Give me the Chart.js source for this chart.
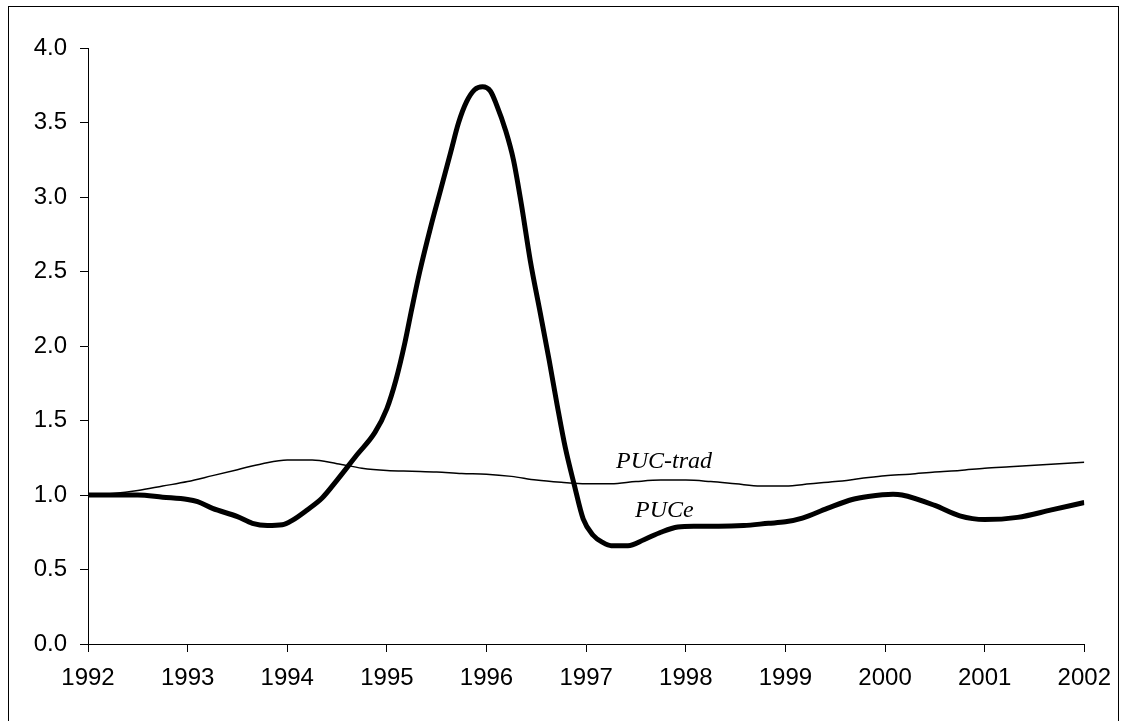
<!DOCTYPE html>
<html>
<head>
<meta charset="utf-8">
<script src="https://cdn.jsdelivr.net/npm/chart.js@4/dist/chart.umd.min.js"></script>
<style>
  html, body { margin: 0; padding: 0; background: #fff; overflow: hidden; }
  canvas { display: block; }
</style>
</head>
<body>
<canvas id="chart" width="1123" height="721"></canvas>
<script>
/* ─── Data ─────────────────────────────────────────── */
const yTicks = [0, 0.5, 1, 1.5, 2, 2.5, 3, 3.5, 4];

const tradYears = [
  1992.00, 1992.25, 1992.50, 1992.75, 1993.00, 1993.25, 1993.50, 1993.75,
  1994.00, 1994.25, 1994.50, 1994.75, 1995.00, 1995.25, 1995.50, 1995.75,
  1996.00, 1996.25, 1996.50, 1996.75, 1997.00, 1997.25, 1997.50, 1997.75,
  1998.00, 1998.25, 1998.50, 1998.75, 1999.00, 1999.25, 1999.50, 1999.75,
  2000.00, 2000.25, 2000.50, 2000.75, 2001.00, 2001.25, 2001.50, 2001.75,
  2002.00
];
const tradValues = [
  1.00, 1.01, 1.03, 1.06, 1.09, 1.13, 1.17, 1.21,
  1.235, 1.235, 1.21, 1.18, 1.165, 1.16, 1.155, 1.145,
  1.14, 1.125, 1.10, 1.085, 1.075, 1.075, 1.09, 1.10,
  1.10, 1.09, 1.075, 1.06, 1.06, 1.075, 1.09, 1.11,
  1.13, 1.14, 1.155, 1.165, 1.18, 1.19, 1.20, 1.21,
  1.22
];

const pucYears = [
  1992.00, 1992.25, 1992.50, 1992.75, 1993.00, 1993.10, 1993.25, 1993.50,
  1993.65, 1993.80, 1993.95, 1994.05, 1994.20, 1994.35, 1994.50, 1994.70,
  1994.88, 1995.00, 1995.09, 1995.18, 1995.25, 1995.33, 1995.44, 1995.54,
  1995.64, 1995.72, 1995.80, 1995.88, 1995.96, 1996.04, 1996.10, 1996.19,
  1996.27, 1996.35, 1996.44, 1996.54, 1996.63, 1996.71, 1996.79, 1996.88,
  1996.97, 1997.07, 1997.17, 1997.25, 1997.42, 1997.58, 1997.75, 1997.92,
  1998.08, 1998.33, 1998.58, 1998.83, 1999.00, 1999.17, 1999.42, 1999.67,
  1999.83, 2000.08, 2000.17, 2000.50, 2000.75, 2001.00, 2001.33, 2001.67,
  2002.00
];
const pucValues = [
  1.00, 1.00, 1.00, 0.985, 0.97, 0.955, 0.91, 0.855,
  0.81, 0.795, 0.80, 0.83, 0.90, 0.98, 1.10, 1.27,
  1.42, 1.58, 1.77, 2.02, 2.25, 2.50, 2.80, 3.05,
  3.30, 3.50, 3.64, 3.72, 3.74, 3.71, 3.62, 3.45,
  3.25, 2.95, 2.57, 2.22, 1.90, 1.60, 1.32, 1.07,
  0.84, 0.73, 0.68, 0.66, 0.66, 0.70, 0.75, 0.785,
  0.79, 0.79, 0.795, 0.81, 0.82, 0.845, 0.91, 0.97,
  0.99, 1.005, 1.00, 0.93, 0.86, 0.835, 0.85, 0.90,
  0.95
];

// series labels placed on the plot (year, value)
const seriesLabels = [
  { text: "PUC-trad", x: 1997.30, y: 1.18 },
  { text: "PUCe", x: 1997.49, y: 0.85 }
];

/* ─── Plugins ──────────────────────────────────────── */
const frame = {
  id: "frame",
  beforeDraw(chart) {
    const ctx = chart.ctx;
    ctx.save();
    ctx.fillStyle = "#fff";
    ctx.fillRect(0, 0, chart.width, chart.height);
    ctx.strokeStyle = "#000";
    ctx.lineWidth = 1;
    ctx.strokeRect(8.5, 6.5, 1110, 730);
    ctx.restore();
  }
};

const inlineLabels = {
  id: "inlineLabels",
  afterDatasetsDraw(chart) {
    const ctx = chart.ctx;
    const xs = chart.scales.x, ys = chart.scales.y;
    ctx.save();
    ctx.fillStyle = "#000";
    ctx.font = "italic 24px 'Liberation Serif', 'Times New Roman', serif";
    ctx.textAlign = "left";
    ctx.textBaseline = "alphabetic";
    seriesLabels.forEach((l) => {
      ctx.fillText(l.text, xs.getPixelForValue(l.x), ys.getPixelForValue(l.y));
    });
    ctx.restore();
  }
};

/* ─── Chart ────────────────────────────────────────── */
const toPoints = (xs, vs) => xs.map((x, i) => ({ x: x, y: vs[i] }));

new Chart(document.getElementById("chart"), {
  type: "line",
  data: {
    datasets: [
      {
        label: "PUC-trad",
        data: toPoints(tradYears, tradValues),
        borderColor: "#000",
        borderWidth: 1.5,
        pointRadius: 0,
        cubicInterpolationMode: "monotone"
      },
      {
        label: "PUCe",
        data: toPoints(pucYears, pucValues),
        borderColor: "#000",
        borderWidth: 5,
        pointRadius: 0,
        cubicInterpolationMode: "monotone"
      }
    ]
  },
  options: {
    responsive: false,
    animation: false,
    layout: { padding: { left: 0, right: 33, top: 48, bottom: 0 } },
    plugins: { legend: { display: false }, tooltip: { enabled: false } },
    scales: {
      x: {
        type: "linear",
        min: 1992,
        max: 2002,
        afterFit: (s) => { s.height = 77; },
        afterBuildTicks: (s) => {
          s.ticks = [];
          for (let y = 1992; y <= 2002; y++) s.ticks.push({ value: y });
        },
        ticks: {
          color: "#000",
          padding: 12,
          maxRotation: 0,
          font: { family: "'Liberation Sans', Arial, sans-serif", size: 24 },
          callback: (v) => String(v)
        },
        grid: { drawOnChartArea: false, color: "#000", tickLength: 8 },
        border: { color: "#000", width: 1 }
      },
      y: {
        min: 0,
        max: 4,
        afterFit: (s) => { s.width = 88; },
        afterBuildTicks: (s) => { s.ticks = yTicks.map((v) => ({ value: v })); },
        ticks: {
          color: "#000",
          padding: 13,
          font: { family: "'Liberation Sans', Arial, sans-serif", size: 24 },
          callback: (v) => Number(v).toFixed(1)
        },
        grid: { drawOnChartArea: false, color: "#000", tickLength: 8 },
        border: { color: "#000", width: 1 }
      }
    }
  },
  plugins: [frame, inlineLabels]
});
</script>
</body>
</html>
